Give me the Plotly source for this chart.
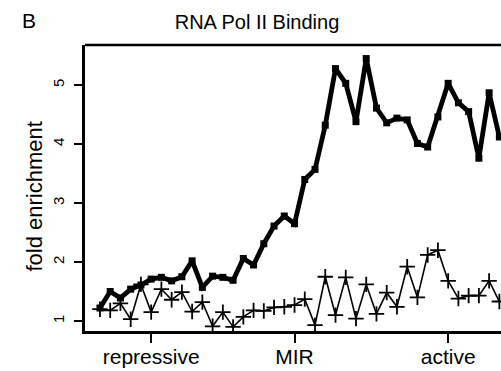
import plotly.graph_objects as go

# ---- data ----
positions = list(range(40))
mir_binding = [1.22, 1.50, 1.39, 1.54, 1.61, 1.71, 1.74, 1.68, 1.75, 2.02,
               1.57, 1.76, 1.74, 1.69, 2.06, 1.95, 2.31, 2.61, 2.78, 2.65,
               3.40, 3.57, 4.32, 5.28, 5.03, 4.38, 5.45, 4.61, 4.36, 4.44,
               4.41, 4.01, 3.95, 4.46, 5.03, 4.70, 4.55, 3.76, 4.87, 4.12]
control_binding = [1.20, 1.18, 1.30, 1.03, 1.62, 1.15, 1.54, 1.36, 1.49, 1.16,
                   1.32, 0.91, 1.15, 0.90, 1.07, 1.18, 1.17, 1.23, 1.24, 1.27,
                   1.37, 0.93, 1.75, 1.10, 1.74, 1.04, 1.62, 1.12, 1.48, 1.24,
                   1.92, 1.40, 2.12, 2.20, 1.68, 1.38, 1.43, 1.43, 1.68, 1.33]
tick_positions = [5, 19, 34]
tick_labels = ["repressive", "MIR", "active"]
y_ticks = [1, 2, 3, 4, 5]

FONT = "Liberation Sans, Arial, sans-serif"

fig = go.Figure()
fig.add_trace(go.Scatter(
    x=positions, y=mir_binding, mode="lines+markers",
    line=dict(color="black", width=4.8),
    marker=dict(symbol="square", size=7, color="black"),
    showlegend=False,
))
fig.add_trace(go.Scatter(
    x=positions, y=control_binding, mode="lines+markers",
    line=dict(color="black", width=1.6),
    marker=dict(symbol="cross-thin", size=11, color="black",
                line=dict(color="black", width=1.8)),
    showlegend=False,
))

fig.update_layout(
    width=501, height=371,
    margin=dict(l=85, r=0, t=45, b=40),
    paper_bgcolor="white", plot_bgcolor="white",
    font=dict(family=FONT, color="black"),
    title=dict(text="RNA Pol II Binding", x=0.513, xref="container", xanchor="center",
               y=1 - 22 / 371, yref="container", yanchor="middle",
               font=dict(size=20, family=FONT, color="black")),
    xaxis=dict(range=[-1.46, 39.16], tickmode="array", tickvals=tick_positions,
               ticktext=tick_labels, ticks="outside", ticklen=9, tickwidth=2,
               tickcolor="black", showline=True, linecolor="black", linewidth=2.5,
               showgrid=False, zeroline=False, tickfont=dict(size=21, family=FONT),
               ticklabelstandoff=-4),
    yaxis=dict(range=[0.83, 5.68], tickmode="array", tickvals=y_ticks,
               ticks="outside", ticklen=8, tickwidth=1.5, tickcolor="black",
               showline=True, linecolor="black", linewidth=2.5, showgrid=False,
               zeroline=False, tickangle=-90, tickfont=dict(size=15, family=FONT),
               ticklabelstandoff=4),
    shapes=[dict(type="line", xref="paper", yref="paper", x0=0, x1=1, y0=1, y1=1,
                 line=dict(color="black", width=2.5))],
    annotations=[
        dict(text="B", xref="paper", yref="paper", x=0, y=1, xshift=29 - 85, yshift=25,
             showarrow=False, font=dict(size=21, family=FONT), xanchor="center", yanchor="middle"),
        dict(text="fold enrichment", xref="paper", yref="paper", x=0, y=0.47,
             xshift=35 - 85, showarrow=False, textangle=-90,
             font=dict(size=22, family=FONT), xanchor="center", yanchor="middle"),
    ],
)

fig.write_html("out.html", config={"displayModeBar": False},
               post_script="document.body.style.margin='0';")
